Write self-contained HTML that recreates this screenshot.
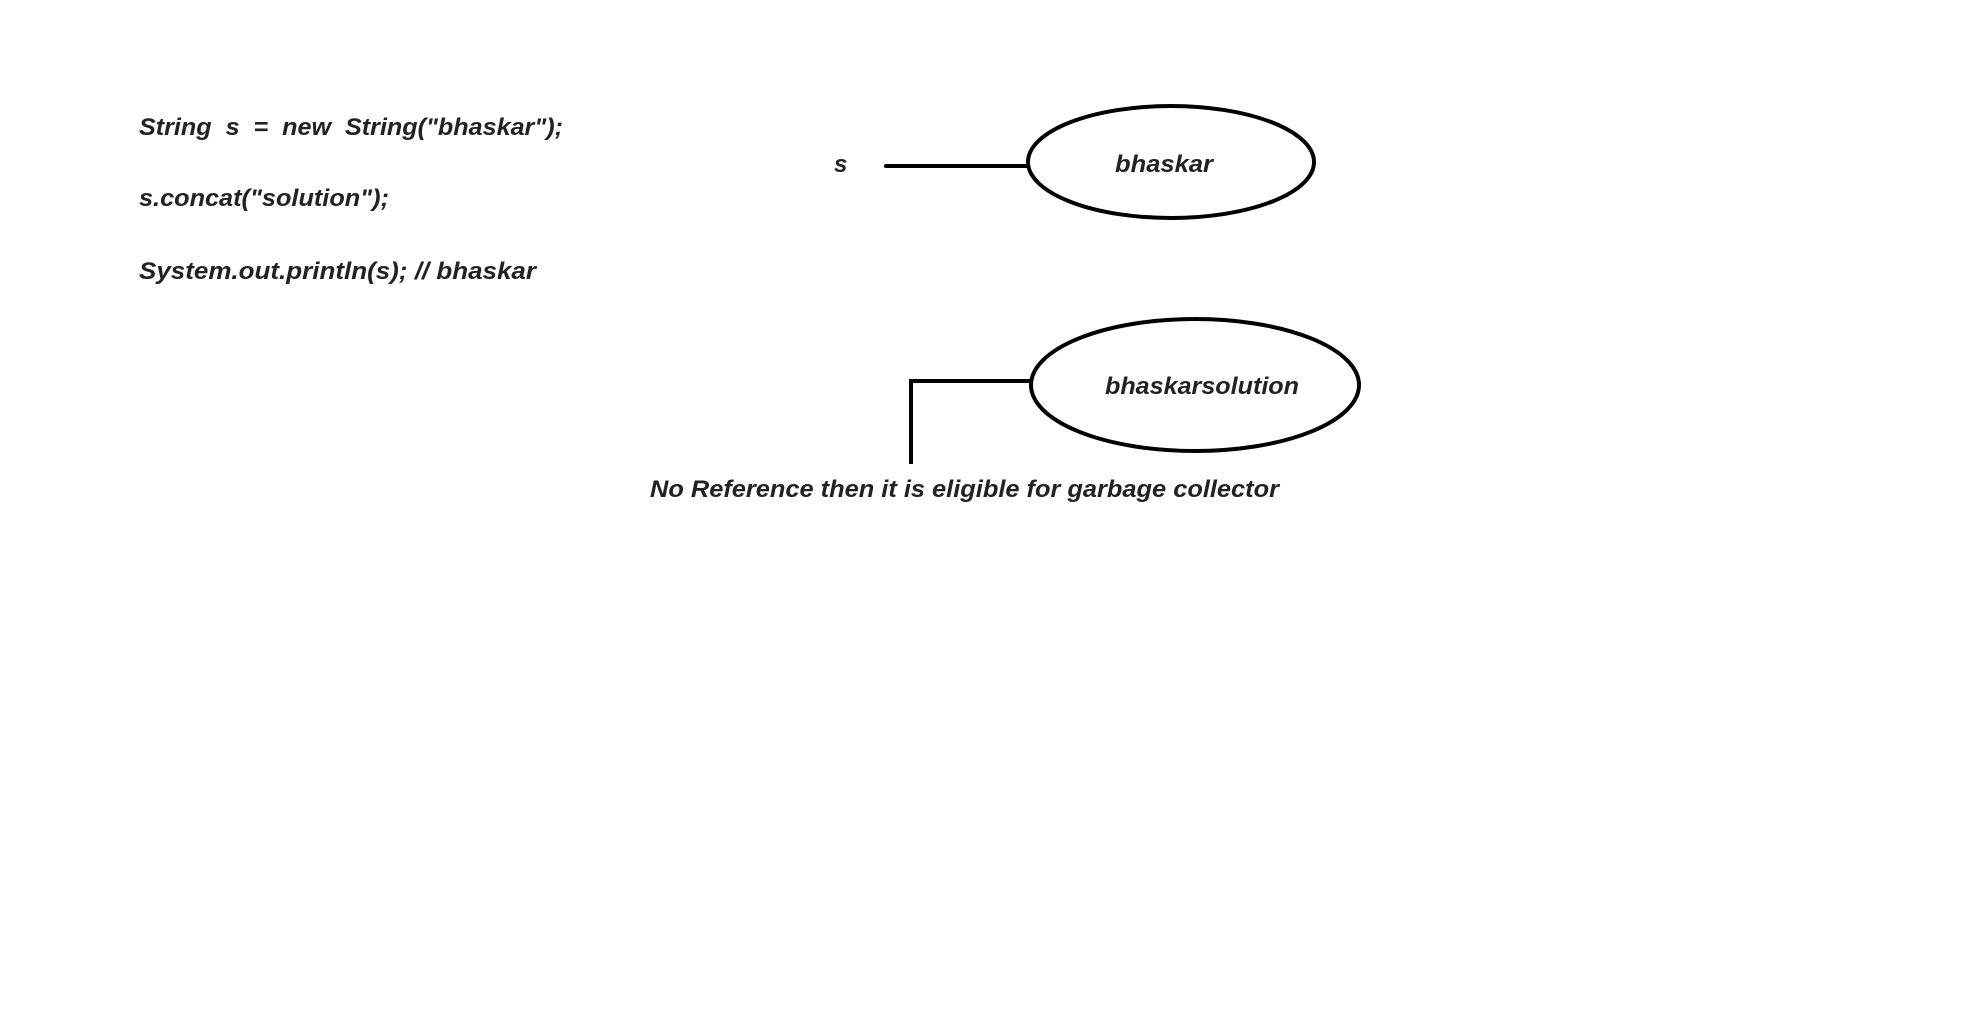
<!DOCTYPE html>
<html><head><meta charset="utf-8"><style>
html,body{margin:0;padding:0;background:#fff;width:1984px;height:1026px;overflow:hidden}
text{font-family:"Liberation Sans",sans-serif;font-weight:bold;font-style:italic;fill:#222}
</style></head><body>
<svg width="1984" height="1026" viewBox="0 0 1984 1026" xmlns="http://www.w3.org/2000/svg">
<text x="139" y="135" font-size="24" textLength="424" lengthAdjust="spacingAndGlyphs" xml:space="preserve">String  s  =  new  String("bhaskar");</text>
<text x="139" y="206" font-size="24" textLength="250" lengthAdjust="spacingAndGlyphs">s.concat("solution");</text>
<text x="139" y="279" font-size="24" textLength="397" lengthAdjust="spacingAndGlyphs">System.out.println(s); // bhaskar</text>
<text x="834" y="172" font-size="24">s</text>
<line x1="886" y1="166" x2="1028" y2="166" stroke="#000" stroke-width="4" stroke-linecap="round"/>
<ellipse cx="1171" cy="162" rx="143" ry="56" fill="none" stroke="#000" stroke-width="4"/>
<text x="1164" y="172" font-size="24" text-anchor="middle" textLength="98" lengthAdjust="spacingAndGlyphs">bhaskar</text>
<ellipse cx="1195" cy="385" rx="164" ry="66" fill="none" stroke="#000" stroke-width="4"/>
<text x="1202" y="394" font-size="24" text-anchor="middle" textLength="194" lengthAdjust="spacingAndGlyphs">bhaskarsolution</text>
<polyline points="911,464 911,381 1031,381" fill="none" stroke="#000" stroke-width="4"/>
<text x="650" y="497" font-size="24" textLength="629" lengthAdjust="spacingAndGlyphs">No Reference then it is eligible for garbage collector</text>
</svg>
</body></html>
